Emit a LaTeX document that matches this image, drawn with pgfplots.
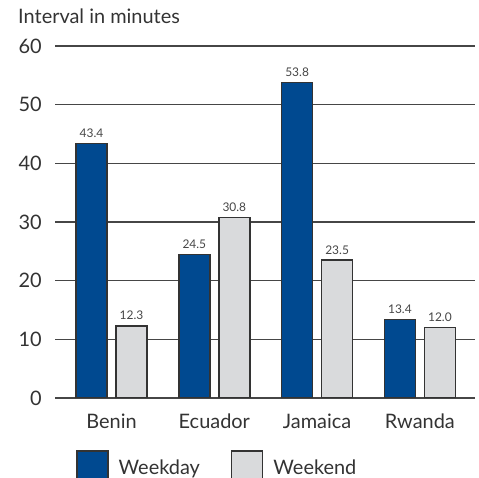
\documentclass[border=0pt]{standalone}
\usepackage{pgfplots}
\pgfplotsset{compat=1.18}
\usepackage{fontspec}
\setmainfont{Lato}
\definecolor{wkday}{RGB}{0,73,144}
\definecolor{wkend}{RGB}{217,218,220}
\definecolor{txt}{RGB}{51,51,51}
\definecolor{gridc}{RGB}{70,70,70}
\begin{document}
\begin{tikzpicture}[x=1bp,y=1bp]
\useasboundingbox (0,0) rectangle (479,478);
\begin{axis}[
  at={(55bp,80bp)}, anchor=south west,
  scale only axis, width=420bp, height=352bp,
  xmin=-0.55, xmax=3.536, ymin=0, ymax=60,
  /pgf/number format/assume math mode=true,
  ybar=9bp, bar width=31bp,
  xtick={0,1,2,3}, xticklabels={Benin,Ecuador,Jamaica,Rwanda},
  ytick={0,10,20,30,40,50,60},
  major tick length=0pt,
  xmajorgrids=false, ymajorgrids=true,
  grid style={draw=gridc, line width=1.3bp},
  axis line style={draw=none},
  ticklabel style={font=\fontsize{20}{24}\selectfont, text=txt, inner sep=0pt},
  yticklabel style={anchor=east, xshift=-13bp},
  xticklabel style={anchor=north, yshift=-15bp, text height=15bp, text depth=4bp},
  title={Interval in minutes},
  title style={at={(axis description cs:-0.088,1.046)}, anchor=base west, inner sep=0pt, font=\fontsize{20}{24}\selectfont, text=txt},
  nodes near coords,
  nodes near coords style={font=\fontsize{12}{14}\selectfont, text=gridc, anchor=south, inner sep=0pt, yshift=5bp, /pgf/number format/.cd, fixed, fixed zerofill, precision=1, assume math mode=true},
  legend columns=2,
  legend style={at={(axis description cs:0.05,-0.148)}, anchor=north west, draw=none, fill=none, inner sep=0pt, font=\fontsize{20}{24}\selectfont, text=txt, nodes={inner sep=0pt}, column sep=10bp, /tikz/every even column/.append style={column sep=31bp}},
  legend image code/.code={\draw[#1, line width=1.5bp] (0bp,-8bp) rectangle (31bp,23bp);},
]
\addplot[fill=wkday, draw=txt, line width=1.5bp] coordinates {(0,43.4) (1,24.5) (2,53.8) (3,13.4)};
\addplot[fill=wkend, draw=txt, line width=1.5bp] coordinates {(0,12.3) (1,30.8) (2,23.5) (3,12.0)};
\legend{\raisebox{13bp}{Weekday},\raisebox{13bp}{Weekend}}
\end{axis}
\end{tikzpicture}
\end{document}
